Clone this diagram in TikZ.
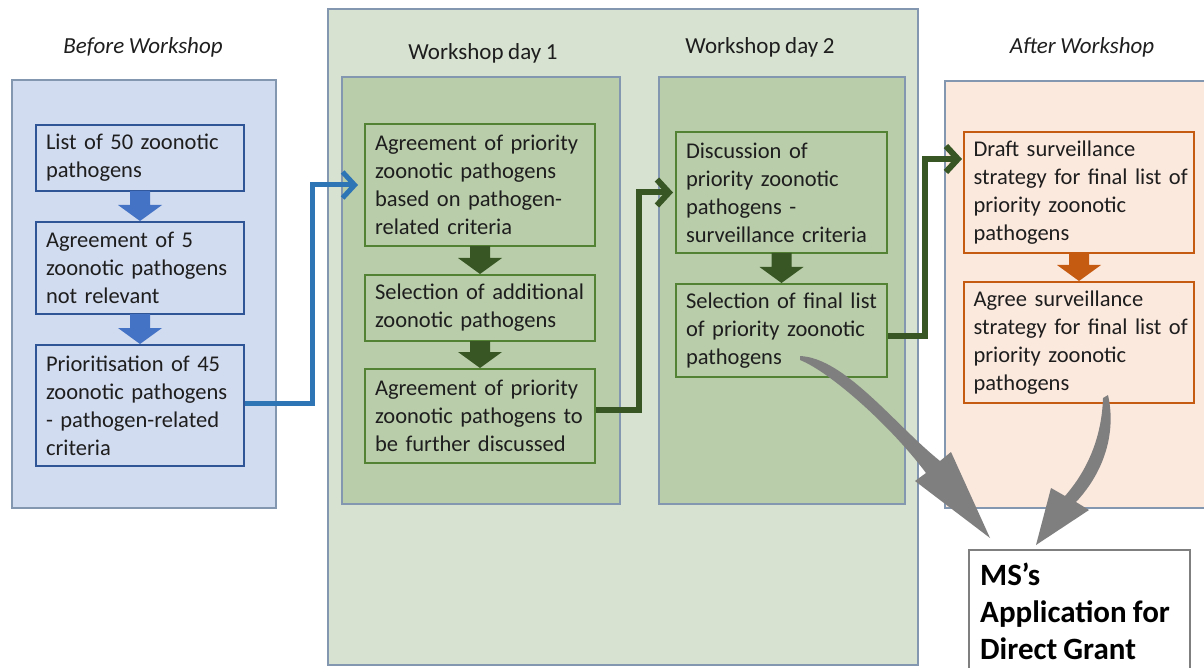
\documentclass[tikz,border=0pt]{standalone}
\usepackage{fontspec}
\setmainfont[WordSpace=0.88]{Carlito}
\usetikzlibrary{calc,arrows.meta}

\definecolor{txt}{HTML}{1E1E1E}
\definecolor{panelline}{HTML}{8497B0}
\definecolor{beforebg}{HTML}{D2DCF0}
\definecolor{workbg}{HTML}{D7E3D0}
\definecolor{daybg}{HTML}{B9CDAA}
\definecolor{afterbg}{HTML}{FCE9DE}
\definecolor{bluebox}{HTML}{2F5597}
\definecolor{bluearr}{HTML}{4472C4}
\definecolor{bluecon}{HTML}{2E75B6}
\definecolor{greenbox}{HTML}{548235}
\definecolor{greenarr}{HTML}{375623}
\definecolor{orangebox}{HTML}{C55A11}
\definecolor{greyarr}{HTML}{7F7F7F}

% one unbreakable line of box text
\newcommand\boxline[1]{\mbox{#1}}

\tikzset{
  panel/.style={draw=panelline, line width=1.2pt, rectangle, inner sep=0pt},
  title/.style={text=txt, font=\fontsize{23}{28}\selectfont, inner sep=0pt},
  stepbox/.style={rectangle, line width=2pt, text=txt, align=left,
    inner xsep=10pt, inner ysep=0pt, font=\fontsize{22.5}{28}\selectfont},
  bluestep/.style={stepbox, draw=bluebox, fill=beforebg},
  greenstep/.style={stepbox, draw=greenbox, fill=daybg},
  orangestep/.style={stepbox, draw=orangebox, fill=afterbg},
  blockdown/.style={to path={let \p1=(\tikztostart), \p2=(\tikztotarget) in
    (\x1-10pt,\y1+1pt) -- (\x1+10pt,\y1+1pt) -- (\x1+10pt,\y2+16pt) -- (\x1+22pt,\y2+16pt)
    -- (\x1,\y2) -- (\x1-22pt,\y2+16pt) -- (\x1-10pt,\y2+16pt) -- cycle}},
  elbow/.style={line join=miter, -{Straight Barb[length=12pt,width=26pt]}},
}

\begin{document}
\begin{tikzpicture}[x=1pt, y=-1pt]
\useasboundingbox (0,0) rectangle (1204,668);
\fill[white] (0,0) rectangle (1204,668);

% ---- panels ----
\node[panel, fill=beforebg, minimum width=264pt, minimum height=428pt] (before) at (144,294) {};
\node[panel, fill=workbg, minimum width=590pt, minimum height=656pt] (workshop) at (623,337) {};
\node[panel, fill=daybg, minimum width=278pt, minimum height=427pt] (day1) at (481,290.5) {};
\node[panel, fill=daybg, minimum width=246pt, minimum height=427pt] (day2) at (782,290.5) {};
\node[panel, fill=afterbg, minimum width=265pt, minimum height=427pt] (after) at (1077.5,294.5) {};

% ---- headings ----
\node[title, font=\fontsize{23}{28}\selectfont\itshape] (tbefore) at (143,47) {Before Workshop};
\node[title] (tday1) at (483,53) {Workshop day 1};
\node[title] (tday2) at (760,47) {Workshop day 2};
\node[title, font=\fontsize{23}{28}\selectfont\itshape] (tafter) at (1082,47) {After Workshop};

% ---- before workshop ----
\node[bluestep, text width=188pt, minimum width=208pt, minimum height=66pt] (b1) at (140,158)
  {\boxline{List of 50 zoonotic}\\\boxline{pathogens}};
\node[bluestep, text width=188pt, minimum width=208pt, minimum height=92pt] (b2) at (140,268)
  {\boxline{Agreement of 5}\\\boxline{zoonotic pathogens}\\\boxline{not relevant}};
\node[bluestep, text width=188pt, minimum width=208pt, minimum height=121pt] (b3) at (140,405.5)
  {\boxline{Prioritisation of 45}\\\boxline{zoonotic pathogens}\\\boxline{- pathogen-related}\\\boxline{criteria}};

% ---- workshop day 1 ----
\node[greenstep, text width=210pt, minimum width=230pt, minimum height=122pt] (d1a) at (480,185)
  {\boxline{Agreement of priority}\\\boxline{zoonotic pathogens}\\\boxline{based on pathogen-}\\\boxline{related criteria}};
\node[greenstep, text width=210pt, minimum width=230pt, minimum height=66pt] (d1b) at (480,308)
  {\boxline{Selection of additional}\\\boxline{zoonotic pathogens}};
\node[greenstep, text width=210pt, minimum width=230pt, minimum height=94pt] (d1c) at (480,416)
  {\boxline{Agreement of priority}\\\boxline{zoonotic pathogens to}\\\boxline{be further discussed}};

% ---- workshop day 2 ----
\node[greenstep, text width=191pt, minimum width=211pt, minimum height=121pt] (d2a) at (781.5,192.5)
  {\boxline{Discussion of}\\\boxline{priority zoonotic}\\\boxline{pathogens -}\\\boxline{surveillance criteria}};
\node[greenstep, text width=191pt, minimum width=211pt, minimum height=93pt] (d2b) at (781.5,330.5)
  {\boxline{Selection of final list}\\\boxline{of priority zoonotic}\\\boxline{pathogens}};

% ---- after workshop ----
\node[orangestep, text width=211pt, minimum width=230pt, minimum height=121pt, inner xsep=9.5pt] (a1) at (1079,192.5)
  {\boxline{Draft surveillance}\\\boxline{strategy for final list of}\\\boxline{priority zoonotic}\\\boxline{pathogens}};
\node[orangestep, text width=211pt, minimum width=230pt, minimum height=121pt, inner xsep=9.5pt] (a2) at (1079,342.5)
  {\boxline{Agree surveillance}\\\boxline{strategy for final list of}\\\boxline{priority zoonotic}\\\boxline{pathogens}};

% ---- application box ----
\node[rectangle, draw=greyarr, line width=2pt, fill=white, anchor=north west,
      minimum width=221pt, minimum height=160pt] (ms) at (968,549) {};
\node[anchor=north west, inner sep=0pt, align=left, text=black,
      font=\fontsize{31}{37}\selectfont\bfseries] (mstext) at ($(ms.north west)+(12,14)$)
  {MS’s\\Application for\\Direct Grant};

% ---- block arrows inside the columns ----
\fill[bluearr] (b1.south) to[blockdown] (b2.north);
\fill[bluearr] (b2.south) to[blockdown] (b3.north);
\fill[greenarr] (d1a.south) to[blockdown] (d1b.north);
\fill[greenarr] (d1b.south) to[blockdown] (d1c.north);
\fill[greenarr] (d2a.south) to[blockdown] (d2b.north);
\fill[orangebox] (a1.south) to[blockdown] (a2.north);

% ---- elbow connectors between stages ----
\coordinate (j1) at (312,403);
\coordinate (j2) at (639,410);
\coordinate (j3) at (925,336);
\coordinate (t3) at ($(a1.north west)+(0,28)$);
\draw[elbow, draw=bluecon, line width=5pt, shorten >=6pt] (b3.east |- j1) -- (j1) |- (d1a.west);
\draw[elbow, draw=greenarr, line width=6pt, shorten >=2pt] (d1c.east |- j2) -- (j2) |- (d2a.west);
\draw[elbow, draw=greenarr, line width=6pt, shorten >=1pt] (d2b.east |- j3) -- (j3) |- (t3);

% ---- curved grey arrows into the application ----
\fill[greyarr] (800,356) .. controls (845,358) and (895,425) .. (940,461)
  -- (951,452) -- (990,538) -- (915,481) -- (926,473)
  .. controls (890,425) and (830,372) .. (800,360) -- cycle;
\fill[greyarr] (1108,395) .. controls (1116,430) and (1106,470) .. (1076,502)
  -- (1089,510) -- (1036,545) -- (1051,488) -- (1065,496)
  .. controls (1092,465) and (1102,430) .. (1103,398) -- cycle;
\end{tikzpicture}
\end{document}
